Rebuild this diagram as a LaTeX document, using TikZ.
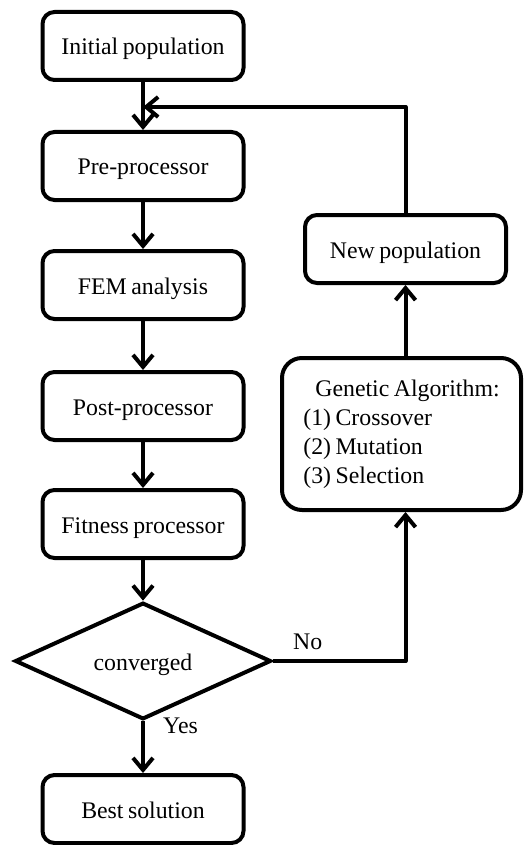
\documentclass[tikz,border=0pt]{standalone}
\usepackage{fontspec}
\setmainfont[WordSpace=0.75]{Liberation Serif}
\usetikzlibrary{arrows.meta,shapes.geometric}
\begin{document}
\begin{tikzpicture}[x=1pt,y=-1pt,
  every node/.style={font=\fontsize{23.8}{29}\selectfont},
  stepbox/.style={draw, line width=4pt, rounded corners=12pt,
    minimum width=201pt, minimum height=68pt, inner sep=0pt,
    text height=18pt, text depth=0pt},
  gabox/.style={draw, line width=4pt, rounded corners=20pt,
    minimum width=239pt, minimum height=152pt, inner sep=0pt, align=left},
  decision/.style={draw, line width=4pt, diamond, minimum width=256pt,
    minimum height=102pt, inner sep=0pt, text height=18pt, text depth=0pt},
  flow/.style={line width=4pt, line join=round,
    -{Straight Barb[length=12pt,width=20pt]}},
  tag/.style={anchor=base west, inner sep=0pt}]
\useasboundingbox (0,0) rectangle (525,845);

% main column
\node[stepbox] (init) at (143,46)  {Initial population};
\node[stepbox] (pre)  at (143,166) {Pre-processor};
\node[stepbox] (fem)  at (143,285) {FEM analysis};
\node[stepbox] (post) at (143,406) {Post-processor};
\node[stepbox] (fit)  at (143,524) {Fitness processor};
\node[decision] (conv) at (143,661) {converged};
\node[stepbox] (best) at (143,809) {Best solution};

% feedback column
\node[stepbox] (newpop) at (405.5,249) {New population};
\node[gabox] (ga) at (401.5,434)
  {\hspace*{12pt}Genetic Algorithm:\\(1) Crossover\\(2) Mutation\\(3) Selection};

\coordinate (merge) at (143,107);

% connectors
\draw[flow] (init) -- (pre);
\draw[flow] (pre) -- (fem);
\draw[flow] (fem) -- (post);
\draw[flow] (post) -- (fit);
\draw[flow] (fit) -- (conv);
\draw[flow] (conv) -- (best);
\draw[flow] (conv.east) -| (newpop |- ga.south);
\draw[flow] (newpop |- ga.north) -- (newpop);
\draw[flow] (newpop) |- (merge);

% branch labels
\node[tag] (no)  at (293,649) {No};
\node[tag] (yes) at (163,733) {Yes};
\end{tikzpicture}
\end{document}
